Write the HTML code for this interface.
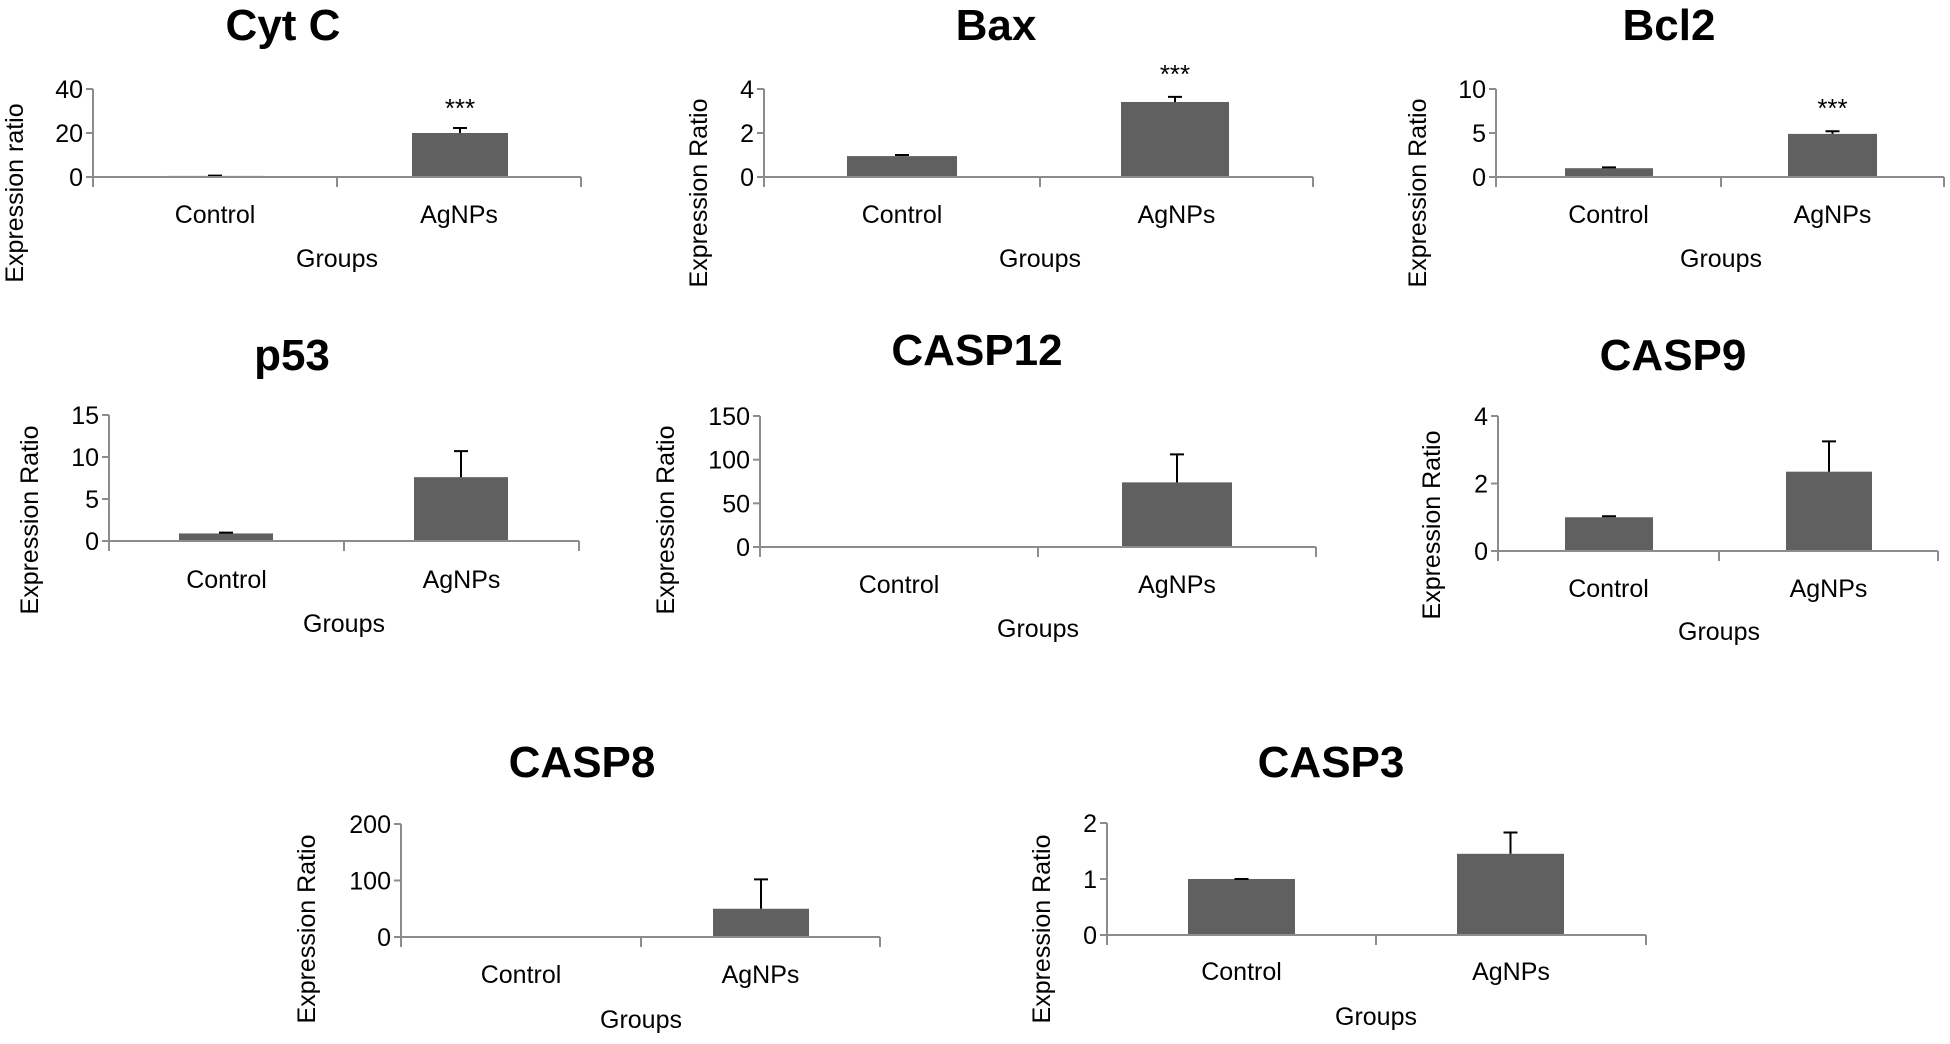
<!DOCTYPE html>
<html><head><meta charset="utf-8"><style>
html,body{margin:0;padding:0;background:#fff;}
svg{display:block;font-family:"Liberation Sans",sans-serif;}
</style></head><body>
<svg id="fig" width="1950" height="1044" viewBox="0 0 1950 1044" xmlns="http://www.w3.org/2000/svg"></svg>
<script>
// ---- data ----
const titles = ["Cyt C","Bax","Bcl2","p53","CASP12","CASP9","CASP8","CASP3"];
const categories = ["Control","AgNPs"];
const controlValues = [0.5, 0.95, 1.0, 0.9, 0.3, 1.0, 0.3, 1.0];
const controlErrors = [0.6, 1.0, 1.1, 1.0, 0.3, 1.03, 0.3, 1.0];
const agnpsValues = [20, 3.41, 4.9, 7.6, 74, 2.35, 50, 1.45];
const agnpsErrors = [22.3, 3.64, 5.2, 10.7, 106, 3.25, 102, 1.83];
const yMaxValues = [40, 4, 10, 15, 150, 4, 200, 2];
const yStepValues = [20, 2, 5, 5, 50, 2, 100, 1];
const starLabels = ["***","***","***","","","","",""];
const yTitles = ["Expression ratio","Expression Ratio","Expression Ratio","Expression Ratio","Expression Ratio","Expression Ratio","Expression Ratio","Expression Ratio"];

// ---- layout (pixels) ----
const layout = [
 {ax:93, mid:337, right:581, top:89, zero:177, b1:[167,263], b2:[412,508], titleX:283, titleY:40, catY:223, grpY:267, ylX:14, ylY:193, starY:107},
 {ax:764, mid:1040, right:1313, top:89, zero:177, b1:[847,957], b2:[1121,1229], titleX:996, titleY:40, catY:223, grpY:267, ylX:698, ylY:193, starY:73},
 {ax:1496, mid:1721, right:1944, top:89, zero:177, b1:[1565,1653], b2:[1788,1877], titleX:1669, titleY:40, catY:223, grpY:267, ylX:1417, ylY:193, starY:107},
 {ax:109, mid:344, right:579, top:415, zero:541, b1:[179,273], b2:[414,508], titleX:292, titleY:370, catY:588, grpY:632, ylX:29, ylY:520, starY:0},
 {ax:760, mid:1038, right:1316, top:416, zero:547, b1:[842,952], b2:[1122,1232], titleX:977, titleY:365, catY:593, grpY:637, ylX:665, ylY:520, starY:0},
 {ax:1498, mid:1719, right:1938, top:416, zero:551, b1:[1565,1653], b2:[1786,1872], titleX:1673, titleY:370, catY:597, grpY:640, ylX:1431, ylY:525, starY:0},
 {ax:401, mid:641, right:880, top:824, zero:937, b1:[473,569], b2:[713,809], titleX:582, titleY:777, catY:983, grpY:1028, ylX:306, ylY:929, starY:0},
 {ax:1107, mid:1376, right:1646, top:823, zero:935, b1:[1188,1295], b2:[1457,1564], titleX:1331, titleY:777, catY:980, grpY:1025, ylX:1041, ylY:929, starY:0}
];

const NS = "http://www.w3.org/2000/svg";
const svg = document.getElementById('fig');
function mk(tag, attrs, parent, text){
  const e = document.createElementNS(NS, tag);
  for (const k in attrs) e.setAttribute(k, attrs[k]);
  if (text !== undefined) e.textContent = text;
  parent.appendChild(e);
  return e;
}

titles.forEach((t, i) => {
  const L = layout[i];
  const g = mk('g', {}, svg);
  
  
  const yScale = v => L.zero - (v / yMaxValues[i]) * (L.zero - L.top);

  const title = mk('text', {x:L.titleX, y:L.titleY, 'text-anchor':'middle', 'font-size':44, 'font-weight':'bold', fill:'#000'}, g, t);
  
  

  const vals = [controlValues[i], agnpsValues[i]];
  const errs = [controlErrors[i], agnpsErrors[i]];
  const spans = [L.b1, L.b2];
  vals.forEach((v, j) => {
    const x0 = spans[j][0], x1 = spans[j][1];
    const yt = yScale(v);
    const bar = mk('rect', {x:x0, y:yt, width:x1-x0, height:Math.max(1, L.zero-yt), fill:'#606060'}, g);
    
    
    const cx = (x0+x1)/2, ye = yScale(errs[j]);
    if (L.zero - ye > 1) {
      const eb = mk('path', {d:`M${cx},${yt} V${ye} M${cx-7},${ye} H${cx+7}`, stroke:'#000', 'stroke-width':2, fill:'none'}, g);
      
      
    }
  });

  const yAxis = mk('line', {x1:L.ax, y1:L.top, x2:L.ax, y2:L.zero+10, stroke:'#8c8c8c', 'stroke-width':2}, g);
  
  
  const xAxis = mk('line', {x1:L.ax-7, y1:L.zero, x2:L.right, y2:L.zero, stroke:'#8c8c8c', 'stroke-width':2}, g);
  
  
  [L.mid, L.right].forEach(x => {
    const tk = mk('line', {x1:x, y1:L.zero, x2:x, y2:L.zero+10, stroke:'#8c8c8c', 'stroke-width':2}, g);
    
    
  });
  for (let v = 0; v <= yMaxValues[i] + 1e-9; v += yStepValues[i]) {
    const y = yScale(v);
    const tk = mk('line', {x1:L.ax-7, y1:y, x2:L.ax, y2:y, stroke:'#8c8c8c', 'stroke-width':2}, g);
    
    
    const lb = mk('text', {x:L.ax-10, y:y+9, 'text-anchor':'end', 'font-size':25, fill:'#000'}, g, String(Math.round(v*100)/100));
    
    
  }

  const centers = [(L.ax+L.mid)/2, (L.mid+L.right)/2];
  categories.forEach((c, j) => {
    const cl = mk('text', {x:centers[j], y:L.catY, 'text-anchor':'middle', 'font-size':25, fill:'#000'}, g, c);
    
    
  });
  const gt = mk('text', {x:L.mid, y:L.grpY, 'text-anchor':'middle', 'font-size':25, fill:'#000'}, g, 'Groups');
  
  
  const yt = mk('text', {x:0, y:0, 'text-anchor':'middle', 'font-size':25, fill:'#000', transform:`translate(${L.ylX+9},${L.ylY}) rotate(-90)`}, g, yTitles[i]);
  
  

  if (starLabels[i]) {
    const st = mk('text', {x:(L.b2[0]+L.b2[1])/2, y:L.starY+10, 'text-anchor':'middle', 'font-size':26, fill:'#000'}, g, starLabels[i]);
    
    
  }
});
</script>
</body></html>
